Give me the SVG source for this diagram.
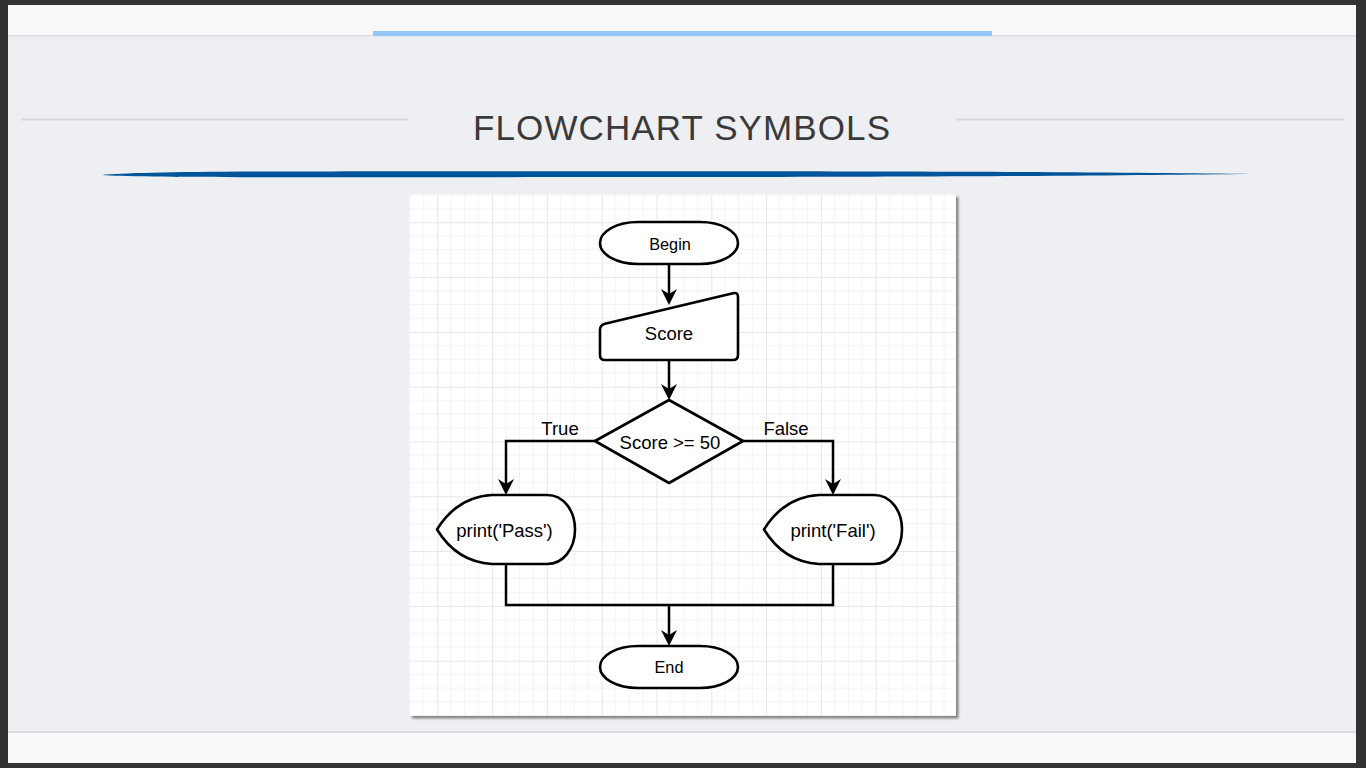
<svg xmlns="http://www.w3.org/2000/svg" width="1366" height="768" viewBox="0 0 1366 768">
  <defs>
    <style>
      .shape { fill: #ffffff; stroke: #000000; stroke-width: 2.6; stroke-linejoin: round; }
      .conn { fill: none; stroke: #000000; stroke-width: 2.5; stroke-linejoin: miter; }
      .lbl { font-family: "Liberation Sans", Arial, Helvetica, sans-serif; fill: #000000; text-anchor: middle; }
      .t16 { font-size: 16.3px; }
      .t18 { font-size: 18.5px; }
      .minor { stroke: #f3f3f3; stroke-width: 1; fill: none; }
      .major { stroke: #e6e6e6; stroke-width: 1; fill: none; }
      .hline { stroke: #d7d8dc; stroke-width: 2; }
    </style>
    <marker id="arrow" markerUnits="userSpaceOnUse" markerWidth="16" markerHeight="16" refX="5" refY="8" orient="auto" viewBox="0 0 16 16">
      <path d="M0,0 L16,8 L0,16 L5,8 Z" fill="#000000"/>
    </marker>
    <pattern id="grid" patternUnits="userSpaceOnUse" x="382.5" y="167.5" width="54.8" height="54.8">
      <path class="minor" d="M13.7,0V54.8M27.4,0V54.8M41.1,0V54.8M0,13.7H54.8M0,27.4H54.8M0,41.1H54.8"/>
      <path class="major" d="M0.5,0V54.8M0,0.5H54.8"/>
    </pattern>
    <filter id="shadow" x="-5%" y="-5%" width="110%" height="110%">
      <feDropShadow dx="2.5" dy="2.5" stdDeviation="1.2" flood-color="#000000" flood-opacity="0.45"/>
    </filter>
  </defs>

  <!-- frame and slide background -->
  <rect x="0" y="0" width="1366" height="768" fill="#323232"/>
  <rect x="8" y="5" width="1348" height="758" fill="#eeeff2"/>
  <rect x="8" y="5" width="1348" height="30" fill="#f9f9fb"/>
  <rect x="8" y="35" width="1348" height="1.5" fill="#dddee2"/>
  <rect x="373" y="31" width="619" height="5" fill="#93c5f5"/>
  <rect x="8" y="731" width="1348" height="2" fill="#dadbe0"/>
  <rect x="8" y="733" width="1348" height="30" fill="#f9f9fb"/>

  <!-- title -->
  <line class="hline" x1="21" y1="119.5" x2="408" y2="119.5"/>
  <line class="hline" x1="956" y1="119.5" x2="1344" y2="119.5"/>
  <text x="473" y="139.5" font-family="'Liberation Sans', Arial, sans-serif" font-size="35" fill="#3a3a3a" textLength="417" lengthAdjust="spacing">FLOWCHART SYMBOLS</text>
  <path d="M102,175 C140,171 300,171 700,171.2 C1000,171.5 1150,172.5 1252,174 C1150,175 1000,176.8 700,177 C300,177.2 140,178 102,175 Z" fill="#00559a"/>

  <!-- diagram panel -->
  <rect x="409.5" y="194.5" width="546.5" height="521.5" fill="#ffffff" filter="url(#shadow)"/>
  <rect x="409.5" y="194.5" width="546.5" height="521.5" fill="url(#grid)"/>

  <!-- connectors -->
  <g id="connectors">
    <path class="conn" d="M669,264 V294" marker-end="url(#arrow)"/>
    <path class="conn" d="M669,360 V389" marker-end="url(#arrow)"/>
    <path class="conn" d="M595,441 H506 V484" marker-end="url(#arrow)"/>
    <path class="conn" d="M743,441 H833 V484" marker-end="url(#arrow)"/>
    <path class="conn" d="M506,564 V605 H833 V564"/>
    <path class="conn" d="M669,605 V635" marker-end="url(#arrow)"/>
    <text class="lbl t18" x="560" y="435">True</text>
    <text class="lbl t18" x="786" y="435">False</text>
  </g>

  <!-- nodes -->
  <g id="begin">
    <rect class="shape" x="600" y="222" width="138" height="42" rx="38" ry="21"/>
    <text class="lbl t16" x="670" y="249.5">Begin</text>
  </g>
  <g id="score">
    <path class="shape" d="M605,323.8 L733,293.2 Q738,292 738,297 L738,355 Q738,360 733,360 L605,360 Q600,360 600,355 L600,330 Q600,325 605,323.8 Z"/>
    <text class="lbl t18" x="669" y="340">Score</text>
  </g>
  <g id="decision">
    <polygon class="shape" points="669,400 743,441 669,483 595,441"/>
    <text class="lbl t18" x="670" y="449">Score &gt;= 50</text>
  </g>
  <g id="pass">
    <path class="shape" d="M437,529.5 Q457,497 492,495 L547,495 C563,495 575,510 575,529.5 C575,549 563,564 547,564 L492,564 Q457,562 437,529.5 Z"/>
    <text class="lbl t18" x="504.5" y="537">print('Pass')</text>
  </g>
  <g id="fail">
    <path class="shape" d="M764,529.5 Q784,497 819,495 L874,495 C890,495 902,510 902,529.5 C902,549 890,564 874,564 L819,564 Q784,562 764,529.5 Z"/>
    <text class="lbl t18" x="833" y="537">print('Fail')</text>
  </g>
  <g id="end">
    <rect class="shape" x="600" y="646" width="138" height="42" rx="38" ry="21"/>
    <text class="lbl t16" x="669" y="673">End</text>
  </g>
</svg>
